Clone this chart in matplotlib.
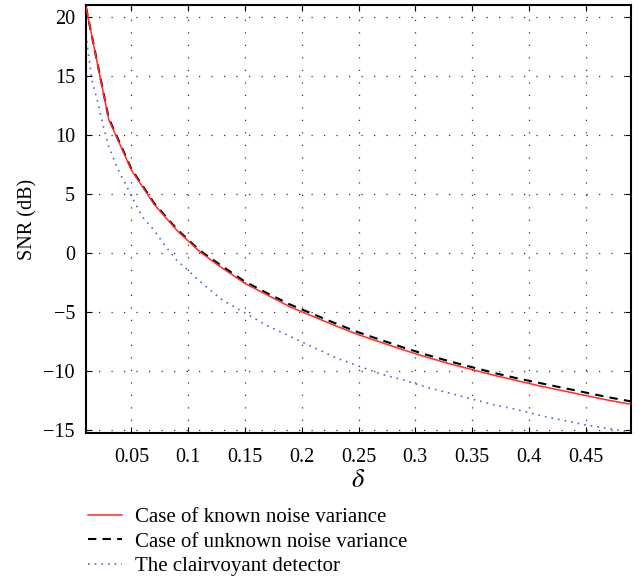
import matplotlib
matplotlib.use('Agg')
import matplotlib.pyplot as plt
import numpy as np

plt.rcParams['font.family'] = ['Liberation Serif', 'DejaVu Serif']
plt.rcParams['mathtext.fontset'] = 'stix'

# delta grid for the two detector curves
delta = [0.01, 0.03, 0.05, 0.07, 0.09, 0.11, 0.13, 0.15, 0.17, 0.19, 0.21,
         0.23, 0.25, 0.27, 0.29, 0.31, 0.33, 0.35, 0.37, 0.39, 0.41, 0.43,
         0.45, 0.47, 0.49]
snr_known = [20.8, 11.3, 7.0, 4.1, 1.9, 0.1, -1.3, -2.6, -3.6, -4.6, -5.4,
             -6.2, -6.95, -7.6, -8.25, -8.85, -9.4, -9.9, -10.4, -10.85,
             -11.3, -11.7, -12.1, -12.5, -12.85]
snr_unknown = [20.8, 11.4, 7.1, 4.2, 2.0, 0.2, -1.15, -2.45, -3.45, -4.4,
               -5.2, -6.0, -6.75, -7.4, -8.05, -8.65, -9.2, -9.7, -10.2,
               -10.65, -11.05, -11.45, -11.85, -12.25, -12.6]

# clairvoyant detector (denser near the start)
delta_cv = [0.01, 0.015, 0.02, 0.025, 0.03, 0.035, 0.04, 0.045, 0.05, 0.06,
            0.07, 0.08, 0.09, 0.1, 0.11, 0.13, 0.15, 0.17, 0.19, 0.21, 0.23,
            0.25, 0.27, 0.29, 0.31, 0.33, 0.35, 0.37, 0.39, 0.41, 0.43, 0.45,
            0.47, 0.49]
snr_cv = [18.5, 14.7, 12.9, 10.8, 9.0, 7.8, 6.7, 5.8, 4.8, 3.0, 1.9, 0.55,
          -0.65, -1.5, -2.4, -4.0, -5.1, -6.2, -7.1, -8.0, -8.9, -9.6, -10.3,
          -10.8, -11.4, -11.9, -12.4, -12.9, -13.3, -13.8, -14.2, -14.6,
          -14.9, -15.2]

xticks = [0.05, 0.1, 0.15, 0.2, 0.25, 0.3, 0.35, 0.4, 0.45]
xticklabels = ['0.05', '0.1', '0.15', '0.2', '0.25', '0.3', '0.35', '0.4', '0.45']
yticks = [-15, -10, -5, 0, 5, 10, 15, 20]
yticklabels = ['\u221215', '\u221210', '\u22125', '0', '5', '10', '15', '20']

fig = plt.figure(figsize=(6.43, 5.80), dpi=100)
ax = fig.add_axes([86/643, 1-433/580, (631-86)/643, (433-5)/580])

ax.plot(delta, snr_known, color='#ff2a2a', lw=1.1, label='Case of known noise variance', zorder=3)
ax.plot(delta, snr_unknown, color='black', lw=1.5, ls=(0, (4, 3)), label='Case of unknown noise variance', zorder=2)
ax.plot(delta_cv, snr_cv, color='#4a6fc8', lw=1.2, ls=(0, (1, 3)), label='The clairvoyant detector', zorder=2)

ax.set_xlim(0.01, 0.49)
ax.set_ylim(-15.28, 21)
ax.set_xticks(xticks)
ax.set_xticklabels(xticklabels)
ax.set_yticks(yticks)
ax.set_yticklabels(yticklabels)
ax.grid(True, color='#333333', ls=(0, (1, 9)), lw=0.9)
ax.tick_params(direction='in', length=4, width=0.8, labelsize=14.5, top=True, right=True)
ax.tick_params(axis='x', pad=11)
ax.tick_params(axis='y', pad=8)
for s in ax.spines.values():
    s.set_linewidth(1.5)

ax.set_xlabel(r'$\delta$', fontsize=19, labelpad=2)
ax.set_ylabel('SNR (dB)', fontsize=14.5, labelpad=4)

fig.legend(loc='upper left', bbox_to_anchor=(80/643, 1-499/580), frameon=False,
           fontsize=15, handlelength=1.6, handletextpad=0.65, labelspacing=0.25,
           borderaxespad=0)

fig.savefig('out.png', dpi=100)
